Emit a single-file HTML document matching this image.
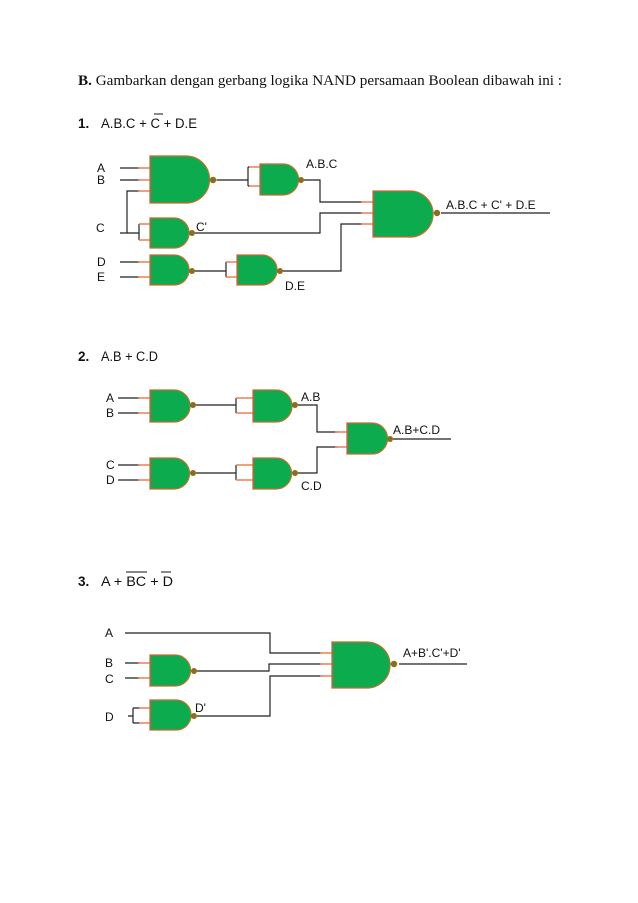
<!DOCTYPE html>
<html><head><meta charset="utf-8"><style>
html,body{margin:0;padding:0;background:#fff;}
svg{display:block;}
.s{font-family:"Liberation Sans",sans-serif;font-size:12px;fill:#111;}
.h{font-family:"Liberation Sans",sans-serif;font-size:13.5px;fill:#111;}
.g{fill:#0bab4e;stroke:#c86a30;stroke-width:1.3;}
.b{fill:#8a6c22;}
.w{stroke:#222;stroke-width:1.2;fill:none;}
.o{stroke:#ee7f55;stroke-width:1.6;fill:none;}
</style></head><body>
<svg width="638" height="903" viewBox="0 0 638 903" xmlns="http://www.w3.org/2000/svg">
<text x="78" y="85" font-family="Liberation Serif,serif" font-size="14.5" fill="#111" textLength="484" lengthAdjust="spacingAndGlyphs"><tspan font-weight="bold">B.</tspan> Gambarkan dengan gerbang logika NAND persamaan Boolean dibawah ini :</text>

<!-- Section 1 -->
<text x="78" y="128" class="h" font-weight="bold">1.</text>
<text x="101" y="128" class="h" textLength="96" lengthAdjust="spacingAndGlyphs">A.B.C + C + D.E</text>
<line x1="154" y1="114" x2="163" y2="114" stroke="#111" stroke-width="1"/>

<text x="97" y="172" class="s">A</text>
<text x="97" y="184" class="s">B</text>
<text x="96" y="232" class="s">C</text>
<text x="97" y="266" class="s">D</text>
<text x="97" y="281" class="s">E</text>
<text x="306" y="168" class="s">A.B.C</text>
<text x="196" y="231" class="s">C'</text>
<text x="285" y="290" class="s">D.E</text>
<text x="446" y="209" class="s">A.B.C + C' + D.E</text>

<path class="w" d="M120,168H140M120,180H140M140,191H127V233H120M127,233H139M139,224V240M139,224H140M139,240H140
M120,262H140M120,277H140
M217,180H248M248,167V186M248,167H250M248,186H250
M304,180H320V202H363M195,233H320V213H363M283,271H341V224H363M441,213H550
M195,271H226M226,262V277M226,262H227M226,277H227"/>
<path class="o" d="M138,168H150M138,180H150M138,191H150M139,224H150M139,240H150M138,262H150M138,277H150
M249,167H260M249,186H260M226,262H237M226,277H237M361,202H373M361,213H373M361,224H373M209,180H217M298,180H304M189,233H194M189,271H194M277,271H282M433,213H440"/>
<path class="g" d="M150,156H186A23.5,23.5 0 0 1 186,203H150Z"/>
<path class="g" d="M260,164H283A15.5,15.5 0 0 1 283,195H260Z"/>
<path class="g" d="M150,218H174A15,15 0 0 1 174,248H150Z"/>
<path class="g" d="M150,255H174A15,15 0 0 1 174,285H150Z"/>
<path class="g" d="M237,255H262A15,15 0 0 1 262,285H237Z"/>
<path class="g" d="M373,191H410A23,23 0 0 1 410,237H373Z"/>
<circle class="b" cx="213" cy="180" r="3.2"/>
<circle class="b" cx="301" cy="180" r="3"/>
<circle class="b" cx="192" cy="233" r="3"/>
<circle class="b" cx="192" cy="271" r="3"/>
<circle class="b" cx="280" cy="271" r="3"/>
<circle class="b" cx="437" cy="213" r="3.2"/>

<!-- Section 2 -->
<text x="78" y="361" class="h" font-weight="bold">2.</text>
<text x="101" y="361" class="h" textLength="57" lengthAdjust="spacingAndGlyphs">A.B + C.D</text>
<text x="106" y="402" class="s">A</text>
<text x="106" y="417" class="s">B</text>
<text x="106" y="469" class="s">C</text>
<text x="106" y="484" class="s">D</text>
<text x="301" y="401" class="s">A.B</text>
<text x="301" y="490" class="s">C.D</text>
<text x="393" y="434" class="s">A.B+C.D</text>
<path class="w" d="M118,398H140M118,413H140M118,465H140M118,480H140
M196,405H236M236,398V413M196,473H236M236,465V480
M298,405H317V432H338M298,473H317V447H338M393,439H451"/>
<path class="o" d="M138,398H150M138,413H150M138,465H150M138,480H150M236,398H253M236,413H253M236,465H253M236,480H253M335,432H347M335,447H347M190,405H195M292,405H297M190,473H195M292,473H297M387,439H392"/>
<path class="g" d="M150,390H174A16,16 0 0 1 174,422H150Z"/>
<path class="g" d="M253,390H276A16,16 0 0 1 276,422H253Z"/>
<path class="g" d="M347,423H372A15.5,15.5 0 0 1 372,454H347Z"/>
<path class="g" d="M150,458H174A15.5,15.5 0 0 1 174,489H150Z"/>
<path class="g" d="M253,458H276A15.5,15.5 0 0 1 276,489H253Z"/>
<circle class="b" cx="193" cy="405" r="3"/>
<circle class="b" cx="295" cy="405" r="3"/>
<circle class="b" cx="390" cy="439" r="3"/>
<circle class="b" cx="193" cy="473" r="3"/>
<circle class="b" cx="295" cy="473" r="3"/>

<!-- Section 3 -->
<text x="78" y="586" class="h" font-weight="bold">3.</text>
<text x="101" y="586" class="h" textLength="72" lengthAdjust="spacingAndGlyphs">A + BC + D</text>
<line x1="126" y1="572" x2="147" y2="572" stroke="#111" stroke-width="1"/>
<line x1="161" y1="572" x2="171" y2="572" stroke="#111" stroke-width="1"/>
<text x="105" y="637" class="s">A</text>
<text x="105" y="667" class="s">B</text>
<text x="105" y="683" class="s">C</text>
<text x="105" y="721" class="s">D</text>
<text x="195" y="712" class="s">D'</text>
<text x="403" y="657" class="s">A+B'.C'+D'</text>
<path class="w" d="M125,633H270V653H322M125,663H140M125,678H140M128,716H133M133,708V723M133,708H140M133,723H140
M197,671H269V664H322M197,716H270V676H322M399,664H467"/>
<path class="o" d="M138,663H150M138,678H150M139,708H150M139,723H150M320,653H332M320,664H332M320,676H332M190,671H196M190,716H196M390,664H397"/>
<path class="g" d="M332,642H367A23,23 0 0 1 367,688H332Z"/>
<path class="g" d="M150,655H175A15.5,15.5 0 0 1 175,686H150Z"/>
<path class="g" d="M150,700H176A15,15 0 0 1 176,730H150Z"/>
<circle class="b" cx="394" cy="664" r="3.2"/>
<circle class="b" cx="194" cy="671" r="3"/>
<circle class="b" cx="194" cy="716" r="3"/>
</svg>
</body></html>
